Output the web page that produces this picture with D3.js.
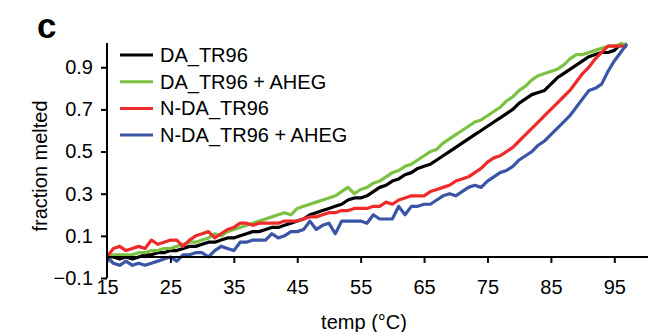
<!DOCTYPE html>
<html>
<head>
<meta charset="utf-8">
<script src="https://cdn.jsdelivr.net/npm/d3@7"></script>
<style>
  html, body { margin: 0; padding: 0; background: #fff; }
  svg { display: block; }
</style>
</head>
<body>
<script>
// temperatures 15..97 °C, 1 degree steps
const temps = d3.range(15, 98)

const daTr96 = [
  0.00, 0.00, -0.01, 0.00, -0.01, 0.00, 0.01, 0.01, 0.02, 0.02,
  0.03, 0.03, 0.04, 0.05, 0.05, 0.06, 0.07, 0.07, 0.08, 0.09,
  0.09, 0.10, 0.11, 0.12, 0.12, 0.13, 0.14, 0.14, 0.15, 0.16,
  0.17, 0.18, 0.20, 0.21, 0.22, 0.23, 0.24, 0.25, 0.27, 0.28,
  0.28, 0.29, 0.31, 0.33, 0.34, 0.36, 0.37, 0.39, 0.40, 0.42,
  0.43, 0.44, 0.46, 0.48, 0.50, 0.52, 0.54, 0.56, 0.58, 0.60,
  0.62, 0.64, 0.66, 0.68, 0.70, 0.73, 0.75, 0.77, 0.78, 0.79,
  0.82, 0.85, 0.87, 0.89, 0.91, 0.93, 0.95, 0.96, 0.97, 0.97,
  0.98, 1.01, 1.00
]

const daTr96Aheg = [
  0.00, 0.01, 0.01, 0.01, 0.01, 0.02, 0.02, 0.03, 0.03, 0.04,
  0.04, 0.05, 0.06, 0.07, 0.07, 0.08, 0.09, 0.11, 0.10, 0.12,
  0.13, 0.14, 0.15, 0.16, 0.17, 0.18, 0.19, 0.20, 0.21, 0.20,
  0.23, 0.24, 0.25, 0.26, 0.27, 0.28, 0.29, 0.31, 0.33, 0.30,
  0.32, 0.33, 0.35, 0.36, 0.38, 0.40, 0.41, 0.43, 0.44, 0.46,
  0.48, 0.50, 0.51, 0.54, 0.56, 0.58, 0.60, 0.62, 0.64, 0.65,
  0.67, 0.69, 0.71, 0.74, 0.76, 0.79, 0.81, 0.84, 0.86, 0.87,
  0.88, 0.89, 0.91, 0.94, 0.96, 0.96, 0.97, 0.98, 0.99, 1.00,
  1.00, 1.01, 1.01
]

const nDaTr96 = [
  0.00, 0.04, 0.05, 0.03, 0.04, 0.05, 0.04, 0.08, 0.06, 0.07,
  0.08, 0.08, 0.05, 0.08, 0.10, 0.11, 0.12, 0.09, 0.11, 0.13,
  0.14, 0.16, 0.16, 0.15, 0.16, 0.16, 0.16, 0.16, 0.17, 0.17,
  0.17, 0.18, 0.19, 0.19, 0.20, 0.21, 0.21, 0.22, 0.22, 0.23,
  0.23, 0.23, 0.24, 0.24, 0.26, 0.25, 0.27, 0.28, 0.29, 0.29,
  0.29, 0.31, 0.32, 0.33, 0.34, 0.36, 0.37, 0.38, 0.40, 0.42,
  0.45, 0.47, 0.48, 0.50, 0.52, 0.55, 0.58, 0.61, 0.64, 0.67,
  0.70, 0.73, 0.76, 0.79, 0.83, 0.87, 0.90, 0.94, 0.97, 1.00,
  1.00, 1.00, 1.00
]

const nDaTr96Aheg = [
  0.00, -0.03, -0.04, -0.02, -0.04, -0.03, -0.04, -0.03, -0.02, -0.01,
  0.00, -0.02, 0.01, 0.01, 0.02, 0.02, 0.00, 0.03, 0.05, 0.04,
  0.03, 0.07, 0.07, 0.08, 0.08, 0.08, 0.11, 0.09, 0.10, 0.12,
  0.12, 0.13, 0.17, 0.13, 0.15, 0.16, 0.11, 0.17, 0.17, 0.17,
  0.17, 0.16, 0.20, 0.18, 0.18, 0.18, 0.24, 0.20, 0.24, 0.24,
  0.25, 0.25, 0.27, 0.29, 0.30, 0.29, 0.31, 0.33, 0.34, 0.33,
  0.36, 0.38, 0.40, 0.41, 0.43, 0.46, 0.48, 0.50, 0.53, 0.55,
  0.58, 0.61, 0.64, 0.67, 0.71, 0.75, 0.79, 0.80, 0.82, 0.88,
  0.93, 0.97, 1.01
]

const seriesNames = ['DA_TR96', 'DA_TR96 + AHEG', 'N-DA_TR96', 'N-DA_TR96 + AHEG']
const seriesValues = [daTr96, daTr96Aheg, nDaTr96, nDaTr96Aheg]
const seriesColors = ['#000000', '#7cc242', '#ee2a2a', '#3a54a6']

const xTicks = [15, 25, 35, 45, 55, 65, 75, 85, 95]
const yTicks = [-0.1, 0.1, 0.3, 0.5, 0.7, 0.9]

const width = 648
const height = 332
const font = '"Liberation Sans", Arial, sans-serif'

const svg = d3.select('body').append('svg')
  .attr('width', width)
  .attr('height', height)

const x = d3.scaleLinear().domain([15, 100]).range([107, 646])
const y = d3.scaleLinear().domain([-0.1, 1.015]).range([278, 43])

// Series lines
const line = d3.line()
  .x((d, i) => x(temps[i]))
  .y(d => y(d))

svg.append('g')
  .selectAll('path')
  .data(seriesValues)
  .join('path')
  .attr('d', line)
  .attr('fill', 'none')
  .attr('stroke', (_, i) => seriesColors[i])
  .attr('stroke-width', 3.2)
  .attr('stroke-linejoin', 'round')

// X axis sits at y = 0
const xAxis = svg.append('g')
  .attr('transform', `translate(0, ${y(0)})`)
  .call(d3.axisBottom(x).tickValues(xTicks).tickSize(6).tickPadding(17).tickFormat(d3.format('d')))

// Y axis
const yAxis = svg.append('g')
  .attr('transform', `translate(${x(15)}, 0)`)
  .call(d3.axisLeft(y).tickValues(yTicks).tickSize(6).tickPadding(8).tickFormat(d3.format('.1f')))

for (const ax of [xAxis, yAxis]) {
  ax.select('.domain').attr('stroke', '#000').attr('stroke-width', 2)
  ax.selectAll('.tick line').attr('stroke', '#000').attr('stroke-width', 2)
  ax.selectAll('.tick text')
    .attr('font-family', font)
    .attr('font-size', 20)
    .attr('fill', '#000')
}
yAxis.select('.domain').attr('d', `M0,${y(-0.1)}V43`)
xAxis.select('.domain').attr('d', `M${x(15)},0H${width}`)

// Axis titles
svg.append('text')
  .attr('x', 364)
  .attr('y', 329)
  .attr('text-anchor', 'middle')
  .attr('font-family', font)
  .attr('font-size', 20)
  .text('temp (°C)')

svg.append('text')
  .attr('transform', 'translate(47, 166) rotate(-90)')
  .attr('text-anchor', 'middle')
  .attr('font-family', font)
  .attr('font-size', 20)
  .text('fraction melted')

// Panel letter
svg.append('text')
  .attr('x', 37)
  .attr('y', 38)
  .attr('font-family', font)
  .attr('font-weight', 'bold')
  .attr('font-size', 35)
  .text('c')

// Legend
const legend = svg.append('g')
  .selectAll('g')
  .data(seriesNames)
  .join('g')
  .attr('transform', (_, i) => `translate(120, ${55 + i * 26.7})`)

legend.append('line')
  .attr('x1', 0)
  .attr('x2', 33)
  .attr('stroke', (_, i) => seriesColors[i])
  .attr('stroke-width', 3)

legend.append('text')
  .attr('x', 40)
  .attr('dy', '0.35em')
  .attr('font-family', font)
  .attr('font-size', 20)
  .text(d => d)
</script>
</body>
</html>
